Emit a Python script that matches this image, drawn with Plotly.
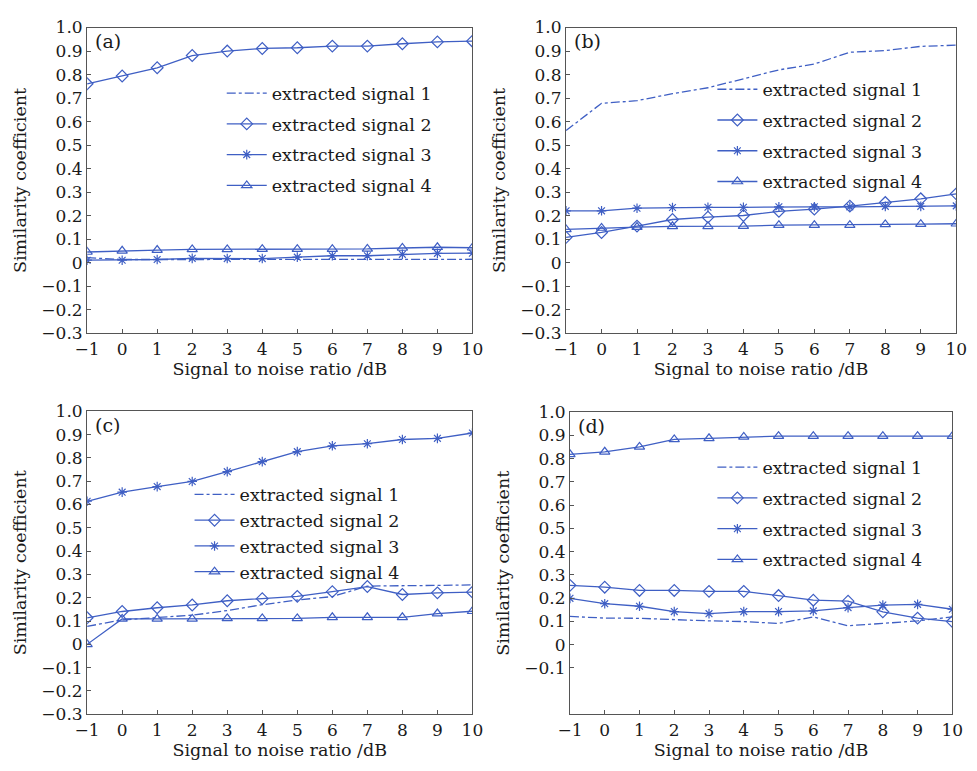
import plotly.graph_objects as go

snr = [-1, 0, 1, 2, 3, 4, 5, 6, 7, 8, 9, 10]

# Panel (a)
a_s1 = [0.022, 0.014, 0.014, 0.014, 0.013, 0.013, 0.013, 0.013, 0.014, 0.014, 0.015, 0.015]
a_s2 = [0.761, 0.794, 0.829, 0.881, 0.900, 0.911, 0.914, 0.921, 0.921, 0.931, 0.939, 0.942]
a_s3 = [0.011, 0.011, 0.014, 0.019, 0.018, 0.018, 0.024, 0.030, 0.030, 0.036, 0.040, 0.041]
a_s4 = [0.046, 0.051, 0.054, 0.057, 0.057, 0.058, 0.058, 0.058, 0.059, 0.063, 0.066, 0.064]

# Panel (b)
b_s1 = [0.562, 0.678, 0.689, 0.719, 0.744, 0.783, 0.820, 0.845, 0.895, 0.902, 0.920, 0.925]
b_s2 = [0.108, 0.129, 0.156, 0.184, 0.194, 0.201, 0.219, 0.228, 0.241, 0.256, 0.272, 0.293]
b_s3 = [0.221, 0.221, 0.232, 0.235, 0.236, 0.236, 0.238, 0.238, 0.238, 0.240, 0.240, 0.242]
b_s4 = [0.142, 0.148, 0.152, 0.155, 0.155, 0.156, 0.160, 0.160, 0.160, 0.163, 0.164, 0.166]

# Panel (c)
c_s1 = [0.077, 0.105, 0.115, 0.125, 0.145, 0.170, 0.190, 0.205, 0.250, 0.253, 0.253, 0.255]
c_s2 = [0.114, 0.141, 0.157, 0.169, 0.187, 0.196, 0.206, 0.226, 0.248, 0.214, 0.221, 0.224]
c_s3 = [0.614, 0.653, 0.677, 0.699, 0.741, 0.784, 0.827, 0.852, 0.861, 0.879, 0.884, 0.907]
c_s4 = [0.000, 0.109, 0.109, 0.109, 0.111, 0.111, 0.111, 0.116, 0.116, 0.116, 0.132, 0.142]

# Panel (d)
d_s1 = [0.121, 0.114, 0.113, 0.107, 0.102, 0.099, 0.091, 0.119, 0.081, 0.091, 0.102, 0.119]
d_s2 = [0.255, 0.247, 0.233, 0.233, 0.229, 0.229, 0.211, 0.191, 0.187, 0.141, 0.114, 0.099]
d_s3 = [0.199, 0.176, 0.165, 0.142, 0.133, 0.142, 0.142, 0.145, 0.159, 0.170, 0.173, 0.152]
d_s4 = [0.819, 0.830, 0.851, 0.883, 0.888, 0.894, 0.897, 0.897, 0.897, 0.897, 0.897, 0.897]

series_names = ["extracted signal 1", "extracted signal 2", "extracted signal 3", "extracted signal 4"]
panel_labels = ["(a)", "(b)", "(c)", "(d)"]
x_title = "Signal to noise ratio /dB"
y_title = "Similarity coefficient"

y_tickvals_full = [1.0, 0.9, 0.8, 0.7, 0.6, 0.5, 0.4, 0.3, 0.2, 0.1, 0.0, -0.1, -0.2, -0.3]
y_ticktext_full = ["1.0", "0.9", "0.8", "0.7", "0.6", "0.5", "0.4", "0.3", "0.2", "0.1", "0",
                   "\u22120.1", "\u22120.2", "\u22120.3"]
y_tickvals_d = y_tickvals_full[:12]
y_ticktext_d = y_ticktext_full[:12]
x_tickvals = snr
x_ticktext = ["\u22121", "0", "1", "2", "3", "4", "5", "6", "7", "8", "9", "10"]

W, H = 977, 771
BLUE = "#3f5fc4"
AXC = "#555555"
FONT = "DejaVu Serif"

panels = [
    dict(data=[a_s1, a_s2, a_s3, a_s4], x=(76, 471), y=(18, 332), leg=(214, 67), gap=5,
         tv=y_tickvals_full, tt=y_ticktext_full),
    dict(data=[b_s1, b_s2, b_s3, b_s4], x=(567, 967), y=(18, 332), leg=(717, 63), gap=5,
         tv=y_tickvals_full, tt=y_ticktext_full),
    dict(data=[c_s1, c_s2, c_s3, c_s4], x=(76, 471), y=(412, 723), leg=(181, 479), gap=0,
         tv=y_tickvals_full, tt=y_ticktext_full),
    dict(data=[d_s1, d_s2, d_s3, d_s4], x=(571, 963), y=(413, 723), leg=(717, 451), gap=5,
         tv=y_tickvals_d, tt=y_ticktext_d),
]

styles = [
    dict(mode="lines", line=dict(dash="dashdot", width=1.3)),
    dict(mode="lines+markers", line=dict(width=1.3), marker=dict(symbol="diamond-open", size=9, line=dict(width=1.2))),
    dict(mode="lines+markers", line=dict(width=1.3), marker=dict(symbol="asterisk-open", size=8, line=dict(width=1.2))),
    dict(mode="lines+markers", line=dict(width=1.3), marker=dict(symbol="triangle-up-open", size=9, line=dict(width=1.2))),
]

fig = go.Figure()
layout = dict(width=W, height=H, margin=dict(l=0, r=0, t=0, b=0),
              paper_bgcolor="white", plot_bgcolor="white",
              font=dict(family=FONT, size=17, color="#1a1a1a"), annotations=[])

for i, p in enumerate(panels):
    xa = "xaxis" if i == 0 else f"xaxis{i+1}"
    ya = "yaxis" if i == 0 else f"yaxis{i+1}"
    xr = "x" if i == 0 else f"x{i+1}"
    yr = "y" if i == 0 else f"y{i+1}"
    lg = "legend" if i == 0 else f"legend{i+1}"
    for k in range(4):
        st = styles[k]
        tr = go.Scatter(x=snr, y=p["data"][k], name=series_names[k], xaxis=xr, yaxis=yr,
                        legend=lg, legendgroup=f"g{i}{k}", mode=st["mode"],
                        line=dict(color=BLUE, **st["line"]))
        if "marker" in st:
            tr.marker = dict(color=BLUE, **st["marker"])
        fig.add_trace(tr)
    x0, x1 = p["x"]
    y0, y1 = p["y"]
    layout[xa] = dict(domain=[x0 / W, x1 / W], anchor=yr, range=[-1, 10],
                      tickvals=x_tickvals, ticktext=x_ticktext, ticks="inside", ticklen=4,
                      tickcolor=AXC, showline=True, linecolor=AXC, linewidth=1.2, mirror=True,
                      showgrid=False, zeroline=False, tickfont=dict(size=17),
                      title=dict(text=x_title, standoff=3, font=dict(size=17.5)))
    layout[ya] = dict(domain=[1 - y1 / H, 1 - y0 / H], anchor=xr, range=[-0.3, 1.0],
                      tickvals=p["tv"], ticktext=p["tt"], ticks="inside", ticklen=4,
                      tickcolor=AXC, showline=True, linecolor=AXC, linewidth=1.2, mirror=True,
                      showgrid=False, zeroline=False, tickfont=dict(size=17),
                      title=dict(text=y_title, standoff=10, font=dict(size=17.5)))
    lx, ly = p["leg"]
    layout[lg] = dict(x=lx / W, y=1 - ly / H, xanchor="left", yanchor="top",
                      bgcolor="rgba(0,0,0,0)", borderwidth=0, font=dict(size=17.5),
                      tracegroupgap=p["gap"], itemwidth=40)
    layout["annotations"].append(dict(text=panel_labels[i], x=(x0 + 6) / W, y=1 - (y0 + 14) / H,
                                      xref="paper", yref="paper", xanchor="left", yanchor="middle",
                                      showarrow=False, font=dict(size=19)))

fig.update_layout(**layout)
fig.write_html("out.html")
